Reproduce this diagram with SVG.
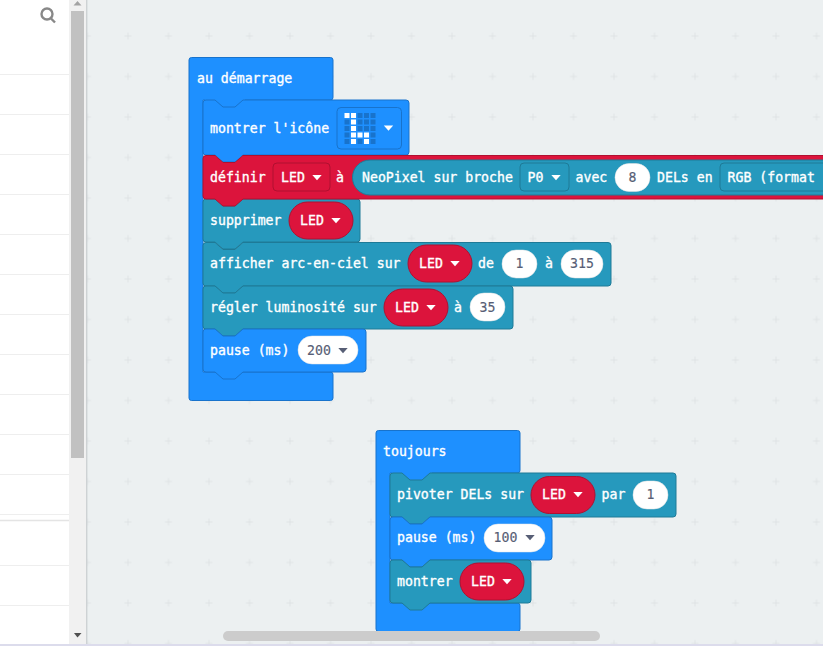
<svg xmlns="http://www.w3.org/2000/svg" width="823" height="652" viewBox="0 0 823 652">
<style>
text{font-family:"DejaVu Sans Mono","Liberation Mono",monospace;font-size:13.2px;font-weight:400;fill:#fff;stroke:#fff;stroke-width:.35}
.n{fill:#575e75;stroke:#575e75;stroke-width:.15;text-anchor:middle}
.blue{fill:#1e90ff;stroke:#1873cc}
.teal{fill:#2699bd;stroke:#1e7a97}
.red{fill:#dc143c;stroke:#b01030}
.redd{fill:#dc143c;stroke:#b01030}
.tdd{fill:#2699bd;stroke:#1e7a97}
.bdd{fill:#1e90ff;stroke:#1873cc}
.in{fill:#fff;stroke:#e4e4e4;stroke-width:.5}
.ln{stroke:#eee;stroke-width:1}
</style>
<defs>
<pattern id="grid" x="87.5" y="36" width="40.5" height="40.5" patternUnits="userSpaceOnUse">
<path d="M0 -3.5V3.5M-3.5 0H3.5M40.5 -3.5V3.5M37 0H44M0 37V44M-3.5 40.5H3.5M40.5 37V44M37 40.5H44" stroke="#dfe3e5" stroke-width="1" fill="none"/>
</pattern>
<path id="dw" d="M-4.700 -2.500H4.700L0 2.800Z"/>
</defs>
<rect width="823" height="652" fill="#fff"/>
<rect x="87" width="736" height="644" fill="#ecf0f1"/>
<rect x="87" width="736" height="644" fill="url(#grid)"/>
<g id="sidebar">
<g fill="none" stroke="#888" stroke-width="2.4"><circle cx="47" cy="14" r="5.5"/><path d="M51 18.500L55 22.500"/></g>
<path class="ln" d="M0 74.500H69M0 114.500H69M0 154.500H69M0 194.500H69M0 234.500H69M0 274.500H69M0 314.500H69M0 354.500H69M0 394.500H69M0 434.500H69M0 474.500H69M0 514.500H69M0 565.500H69M0 605.500H69"/>
<path d="M0 520.500H69" stroke="#e4e4e4" stroke-width="1.4"/>
<rect x="69" width="17" height="644" fill="#f1f1f1"/>
<rect x="71" y="11" width="13" height="447" fill="#c1c1c1"/>
<path d="M77.500 1L73.500 5.500H81.500Z" fill="#a3a3a3"/>
<path d="M74 633H81.500L77.500 637.500Z" fill="#505050"/>
<rect x="86" width="1.400" height="644" fill="#ced2d4"/>
</g>
<g id="start-block">
<path class="blue" d="M191.500 57.500H330.500a2.500 2.500 0 0 1 2.500 2.500V97.500a2.500 2.500 0 0 1-2.500 2.500H203V372H330.500a2.500 2.500 0 0 1 2.500 2.500V398a2.500 2.500 0 0 1-2.500 2.500H191.500a2.500 2.500 0 0 1-2.500-2.500V60a2.500 2.500 0 0 1 2.500-2.500Z"/>
<path d="M205 99H245V108H205Z" fill="#1e90ff"/>
<text x="197" y="83">au démarrage</text>
</g>
<g id="show-icon">
<path class="blue" d="M206 100H215l8 7h12l8-7H406a3 3 0 0 1 3 3V152a3 3 0 0 1-3 3H243l-8 7H223l-8-7H206a3 3 0 0 1-3-3V103a3 3 0 0 1 3-3Z"/>
<text x="210" y="133">montrer l'icône</text>
<rect class="bdd" x="337" y="107.500" width="64.500" height="41.500" rx="4"/>
<g fill="#1873cc">
<rect x="357.500" y="113" width="5" height="5"/><rect x="364" y="113" width="5" height="5"/><rect x="370.500" y="113" width="5" height="5"/>
<rect x="344.500" y="119.500" width="5" height="5"/><rect x="357.500" y="119.500" width="5" height="5"/><rect x="364" y="119.500" width="5" height="5"/><rect x="370.500" y="119.500" width="5" height="5"/>
<rect x="344.500" y="126" width="5" height="5"/><rect x="357.500" y="126" width="5" height="5"/><rect x="364" y="126" width="5" height="5"/><rect x="370.500" y="126" width="5" height="5"/>
<rect x="344.500" y="132.500" width="5" height="5"/><rect x="370.500" y="132.500" width="5" height="5"/>
<rect x="344.500" y="139" width="5" height="5"/><rect x="357.500" y="139" width="5" height="5"/><rect x="370.500" y="139" width="5" height="5"/>
</g>
<g fill="#fff">
<rect x="344.500" y="113" width="5" height="5"/><rect x="351" y="113" width="5" height="5"/>
<rect x="351" y="119.500" width="5" height="5"/>
<rect x="351" y="126" width="5" height="5"/>
<rect x="351" y="132.500" width="5" height="5"/><rect x="357.500" y="132.500" width="5" height="5"/><rect x="364" y="132.500" width="5" height="5"/>
<rect x="351" y="139" width="5" height="5"/><rect x="364" y="139" width="5" height="5"/>
</g>
<use href="#dw" x="388.500" y="128" fill="#fff"/>
</g>
<g id="delete-led">
<path class="teal" d="M206 199H215l8 7h12l8-7H357a3 3 0 0 1 3 3V239a3 3 0 0 1-3 3H243l-8 7H223l-8-7H206a3 3 0 0 1-3-3V202a3 3 0 0 1 3-3Z"/>
<text x="210" y="225">supprimer</text>
<rect class="red" x="289" y="202" width="64" height="37" rx="18.500"/>
<text x="300" y="225">LED</text><use href="#dw" x="336" y="220.500" fill="#fff"/>
</g>
<g id="rainbow">
<path class="teal" d="M206 242.500H215l8 7h12l8-7H608a3 3 0 0 1 3 3V283a3 3 0 0 1-3 3H243l-8 7H223l-8-7H206a3 3 0 0 1-3-3V245.500a3 3 0 0 1 3-3Z"/>
<text x="210" y="268">afficher arc-en-ciel sur</text>
<rect class="red" x="408" y="245" width="64" height="37" rx="18.500"/>
<text x="419" y="268">LED</text><use href="#dw" x="455" y="263.500" fill="#fff"/>
<text x="478" y="268">de</text>
<rect class="in" x="502" y="250" width="35" height="28" rx="14"/><text class="n" x="519.500" y="268">1</text>
<text x="545" y="268">à</text>
<rect class="in" x="561" y="250" width="42" height="28" rx="14"/><text class="n" x="582" y="268">315</text>
</g>
<g id="brightness">
<path class="teal" d="M206 286H215l8 7h12l8-7H510a3 3 0 0 1 3 3V326a3 3 0 0 1-3 3H243l-8 7H223l-8-7H206a3 3 0 0 1-3-3V289a3 3 0 0 1 3-3Z"/>
<text x="210" y="312">régler luminosité sur</text>
<rect class="red" x="384" y="289" width="64" height="37" rx="18.500"/>
<text x="395" y="312">LED</text><use href="#dw" x="431" y="307.500" fill="#fff"/>
<text x="454" y="312">à</text>
<rect class="in" x="470" y="293" width="35" height="28" rx="14"/><text class="n" x="487.500" y="312">35</text>
</g>
<g id="pause-200">
<path class="blue" d="M206 329H215l8 7h12l8-7H363a3 3 0 0 1 3 3V369a3 3 0 0 1-3 3H243l-8 7H223l-8-7H206a3 3 0 0 1-3-3V332a3 3 0 0 1 3-3Z"/>
<text x="210" y="355">pause (ms)</text>
<rect class="in" x="298" y="336" width="60" height="28" rx="14"/><text class="n" x="319" y="355">200</text><use href="#dw" x="343" y="350.500" fill="#575e75"/>
</g>
<g id="define-led">
<path class="red" d="M830 155.500H243l-8 7H223l-8-7H206a3 3 0 0 0-3 3V196a3 3 0 0 0 3 3H215l8 7h12l8-7H830Z"/>
<text x="210" y="182">définir</text>
<rect class="redd" x="273" y="163" width="57" height="28" rx="4"/>
<text x="281" y="182">LED</text><use href="#dw" x="317" y="177.500" fill="#fff"/>
<text x="336" y="182">à</text>
<path class="teal" d="M830 160H370a17.500 17.500 0 0 0 0 35H830Z"/>
<text x="362" y="182">NeoPixel sur broche</text>
<rect class="tdd" x="520" y="163" width="49" height="28" rx="4"/>
<text x="527.500" y="182">P0</text><use href="#dw" x="556" y="177.500" fill="#fff"/>
<text x="575.500" y="182">avec</text>
<rect class="in" x="615" y="163.500" width="35" height="28" rx="14"/><text class="n" x="632.500" y="182">8</text>
<text x="657" y="182">DELs en</text>
<rect class="tdd" x="720" y="163" width="120" height="28" rx="4"/>
<text x="727.500" y="182">RGB (format</text>
</g>
<g id="forever-block">
<path class="blue" d="M378.500 430.500H517.500a2.500 2.500 0 0 1 2.500 2.500V470.500a2.500 2.500 0 0 1-2.500 2.500H390V603H517.500a2.500 2.500 0 0 1 2.500 2.500V629a2.500 2.500 0 0 1-2.500 2.500H378.500a2.500 2.500 0 0 1-2.500-2.500V433a2.500 2.500 0 0 1 2.500-2.500Z"/>
<path d="M392 472H432V481H392Z" fill="#1e90ff"/>
<text x="383" y="456">toujours</text>
</g>
<g id="rotate-led">
<path class="teal" d="M393 473H402l8 7h12l8-7H673a3 3 0 0 1 3 3V514a3 3 0 0 1-3 3H430l-8 7H410l-8-7H393a3 3 0 0 1-3-3V476a3 3 0 0 1 3-3Z"/>
<text x="397" y="499">pivoter DELs sur</text>
<rect class="red" x="531" y="476.500" width="64" height="37" rx="18.500"/>
<text x="542" y="499">LED</text><use href="#dw" x="578" y="494.500" fill="#fff"/>
<text x="601.500" y="499">par</text>
<rect class="in" x="633" y="481" width="35" height="28" rx="14"/><text class="n" x="650.500" y="499">1</text>
</g>
<g id="pause-100">
<path class="blue" d="M393 517H402l8 7h12l8-7H549a3 3 0 0 1 3 3V557a3 3 0 0 1-3 3H430l-8 7H410l-8-7H393a3 3 0 0 1-3-3V520a3 3 0 0 1 3-3Z"/>
<text x="397" y="542">pause (ms)</text>
<rect class="in" x="484" y="524" width="61" height="28" rx="14"/><text class="n" x="505.500" y="542">100</text><use href="#dw" x="530" y="537.500" fill="#575e75"/>
</g>
<g id="show-led">
<path class="teal" d="M393 560H402l8 7h12l8-7H528a3 3 0 0 1 3 3V600a3 3 0 0 1-3 3H430l-8 7H410l-8-7H393a3 3 0 0 1-3-3V563a3 3 0 0 1 3-3Z"/>
<text x="397" y="586">montrer</text>
<rect class="red" x="460" y="563" width="64" height="37" rx="18.500"/>
<text x="471" y="586">LED</text><use href="#dw" x="507" y="581.500" fill="#fff"/>
</g>
<rect id="h-scroll" x="223" y="631" width="377" height="10" rx="5" fill="#ccc"/>
<rect y="644" width="823" height="2" fill="#dcdcec"/>
<rect y="646" width="823" height="6" fill="#fff"/>
</svg>
